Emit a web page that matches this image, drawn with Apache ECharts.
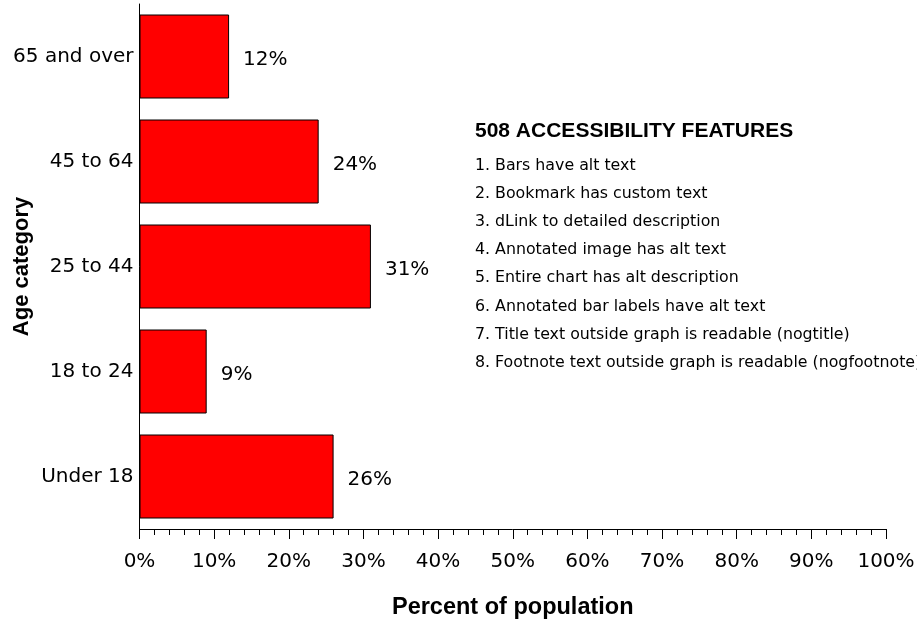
<!DOCTYPE html>
<html>
<head>
<meta charset="utf-8">
<script src="https://cdn.jsdelivr.net/npm/echarts@6/dist/echarts.min.js"></script>
<style>html,body{margin:0;padding:0;background:#fff}#c{width:917px;height:620px}</style>
</head>
<body>
<div id="c"></div>
<script>
const categories = ['Under 18', '18 to 24', '25 to 44', '45 to 64', '65 and over'];
const percents = [26, 9, 31, 24, 12];
const xTicks = [0, 10, 20, 30, 40, 50, 60, 70, 80, 90, 100];
const featureTitle = '508 ACCESSIBILITY FEATURES';
const features = [
  '1. Bars have alt text',
  '2. Bookmark has custom text',
  '3. dLink to detailed description',
  '4. Annotated image has alt text',
  '5. Entire chart has alt description',
  '6. Annotated bar labels have alt text',
  '7. Title text outside graph is readable (nogtitle)',
  '8. Footnote text outside graph is readable (nogfootnote)'
];
const FONT = "'DejaVu Sans', 'Liberation Sans', Arial, sans-serif";
const BOLD = "'Liberation Sans', Arial, sans-serif";

const chart = echarts.init(document.getElementById('c'), null, {renderer: 'canvas'});

const graphics = [{
  type: 'text', left: 475, top: 121,
  style: {text: featureTitle, font: 'bold 21px ' + BOLD, fill: '#000'}
}];
features.forEach((t, i) => {
  graphics.push({
    type: 'text', left: 475, top: 157.5 + i * 28.2,
    style: {text: t, font: '15.8px ' + FONT, fill: '#000'}
  });
});

chart.setOption({
  animation: false,
  backgroundColor: '#fff',
  textStyle: {fontFamily: FONT},
  grid: {left: 139.5, right: 31, top: 4, bottom: 91, containLabel: false, outerBoundsMode: 'none'},
  xAxis: {
    type: 'value', min: xTicks[0], max: xTicks[xTicks.length - 1], interval: 10,
    axisLine: {show: true, lineStyle: {color: '#000', width: 1}},
    axisTick: {show: true, length: 10, lineStyle: {color: '#000'}},
    minorTick: {show: true, splitNumber: 5, length: 6, lineStyle: {color: '#000'}},
    splitLine: {show: false},
    axisLabel: {formatter: '{value}%', fontSize: 20, color: '#000', margin: 23, fontFamily: FONT},
    name: 'Percent of population', nameLocation: 'middle', nameGap: 67, nameMoveOverlap: false,
    nameTextStyle: {fontSize: 23.5, fontWeight: 'bold', color: '#000', fontFamily: BOLD}
  },
  yAxis: {
    type: 'category', data: categories,
    axisLine: {show: true, lineStyle: {color: '#000', width: 1}},
    axisTick: {show: false},
    axisLabel: {fontSize: 20, color: '#000', margin: 6, fontFamily: FONT},
    name: 'Age category', nameLocation: 'middle', nameRotate: 90, nameGap: 107, nameMoveOverlap: false,
    nameTextStyle: {fontSize: 22, fontWeight: 'bold', color: '#000', fontFamily: BOLD}
  },
  series: [{
    type: 'bar', data: percents, barCategoryGap: '20%',
    itemStyle: {color: '#ff0000', borderColor: '#000', borderWidth: 1},
    label: {show: true, position: 'right', distance: 14, offset: [0, 3],
      formatter: '{c}%', fontSize: 20, color: '#000', fontFamily: FONT}
  }],
  graphic: graphics
});
</script>
</body>
</html>
